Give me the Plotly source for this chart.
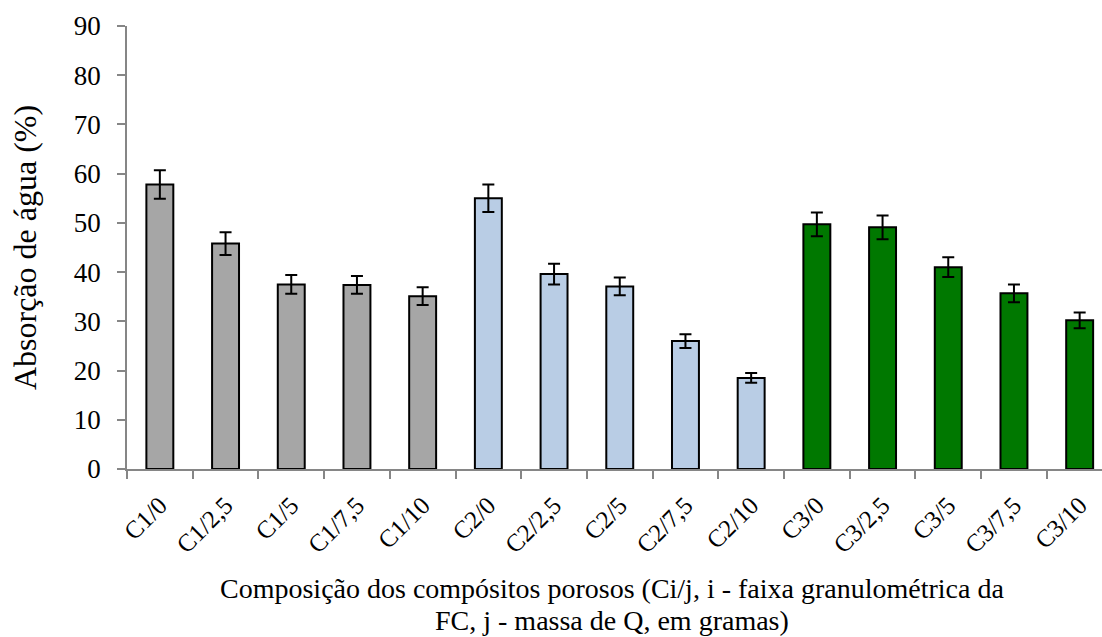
import plotly.graph_objects as go

# Composições dos compósitos porosos
categorias = ["C1/0", "C1/2,5", "C1/5", "C1/7,5", "C1/10",
              "C2/0", "C2/2,5", "C2/5", "C2/7,5", "C2/10",
              "C3/0", "C3/2,5", "C3/5", "C3/7,5", "C3/10"]

# Absorção de água (%) e desvio padrão
absorcao = [57.8, 45.8, 37.5, 37.4, 35.1,
            55.0, 39.6, 37.1, 26.0, 18.5,
            49.7, 49.1, 41.0, 35.7, 30.2]
desvio = [2.9, 2.3, 1.9, 1.8, 1.8,
          2.8, 2.1, 1.8, 1.4, 1.0,
          2.4, 2.4, 2.0, 1.8, 1.6]

# Faixa granulométrica de cada composição
faixa = ["C1"] * 5 + ["C2"] * 5 + ["C3"] * 5
cores_faixa = {"C1": "#A6A6A6", "C2": "#B9CDE5", "C3": "#007800"}

y_ticks = [0, 10, 20, 30, 40, 50, 60, 70, 80, 90]

titulo_x = ["Composição dos compósitos porosos (Ci/j, i - faixa granulométrica da",
            "FC, j - massa de Q, em gramas)"]
titulo_y = "Absorção de água (%)"

fonte = "Liberation Serif"
cinza_eixo = "#868686"

fig = go.Figure()
fig.add_trace(go.Bar(
    x=categorias,
    y=absorcao,
    marker=dict(color=[cores_faixa[f] for f in faixa],
                line=dict(color="black", width=2)),
    error_y=dict(type="data", array=desvio, color="black",
                 thickness=2, width=6),
    showlegend=False,
))

# Título do eixo x em duas linhas com espaçamento próprio
for linha, y_pos in zip(titulo_x, [-0.2708, -0.3431]):
    fig.add_annotation(
        text=linha, xref="paper", yref="paper", x=0.497, y=y_pos,
        xanchor="center", yanchor="middle", showarrow=False,
        font=dict(family=fonte, size=28, color="black"),
    )

fig.update_layout(
    width=1102, height=637,
    margin=dict(l=127, r=0, t=26, b=168),
    plot_bgcolor="white", paper_bgcolor="white",
    bargap=0.59,
    font=dict(family=fonte, color="black"),
    xaxis=dict(
        type="category",
        range=[-0.5, 14.34],
        showline=True, linecolor=cinza_eixo, linewidth=1.5,
        ticks="outside", tickson="boundaries", ticklen=8,
        tickcolor=cinza_eixo, tickwidth=1.5,
        tickangle=-45,
        ticklabelstandoff=10,
        tickfont=dict(family=fonte, size=25, color="black"),
        showgrid=False, zeroline=False,
    ),
    yaxis=dict(
        range=[0, 90],
        tickvals=y_ticks,
        showline=True, linecolor=cinza_eixo, linewidth=1.5,
        ticks="outside", ticklen=8, tickcolor=cinza_eixo, tickwidth=1.5,
        ticklabelstandoff=11,
        tickfont=dict(family=fonte, size=27, color="black"),
        showgrid=False, zeroline=False,
        title=dict(text=titulo_y,
                   font=dict(family=fonte, size=32, color="black"),
                   standoff=28),
    ),
)

fig.write_html("out.html")
